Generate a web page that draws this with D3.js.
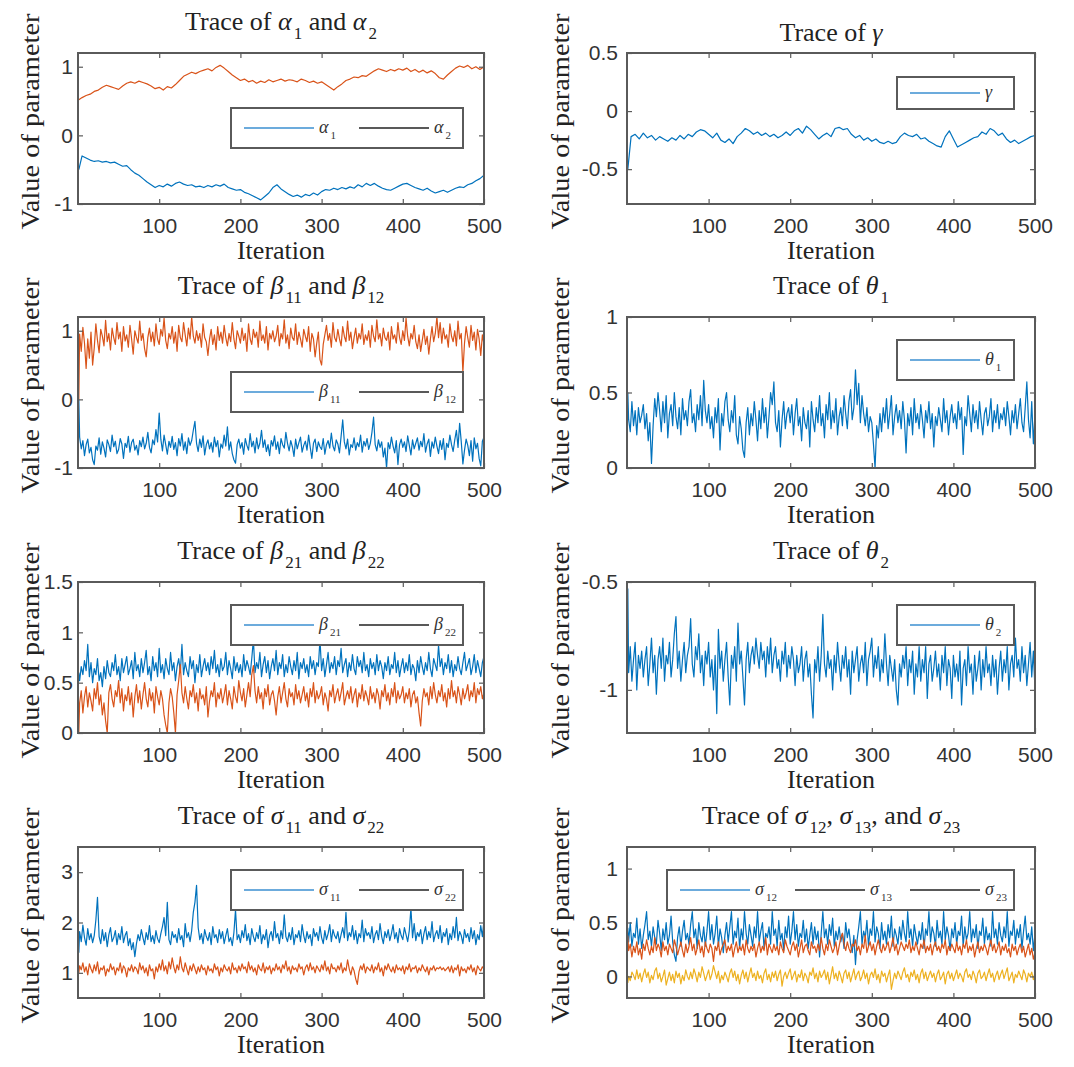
<!DOCTYPE html>
<html>
<head>
<meta charset="utf-8">
<script src="https://cdn.jsdelivr.net/npm/d3@7"></script>
<style>
  body { margin: 0; background: #fff; }
  svg { display: block; }
</style>
</head>
<body>
<div id="chart"></div>
<script>
// MCMC trace plots, 8 panels.
// slow chains (alpha, gamma) read every 5 iterations, noisy chains every 2

const X_TICKS = [100, 200, 300, 400, 500];
// iteration of each stored value (first draw is iteration 1)
const ITER5 = d3.range(0, 501, 5).map(d => Math.max(d, 1));
const ITER2 = d3.range(0, 501, 2).map(d => Math.max(d, 1));

const alpha1 = [
  -0.50, -0.30, -0.33, -0.36, -0.38, -0.37, -0.39, -0.38, -0.40, -0.39,
  -0.42, -0.45, -0.44, -0.50, -0.55, -0.58, -0.63, -0.68, -0.72, -0.76,
  -0.73, -0.75, -0.71, -0.74, -0.70, -0.68, -0.71, -0.73, -0.72, -0.75,
  -0.74, -0.76, -0.73, -0.75, -0.72, -0.74, -0.71, -0.76, -0.78, -0.80,
  -0.79, -0.83, -0.85, -0.88, -0.91, -0.94, -0.89, -0.84, -0.76, -0.72,
  -0.78, -0.82, -0.86, -0.89, -0.87, -0.90, -0.86, -0.88, -0.84, -0.87,
  -0.82, -0.79, -0.80, -0.77, -0.79, -0.76, -0.78, -0.75, -0.77, -0.72,
  -0.75, -0.70, -0.73, -0.70, -0.74, -0.77, -0.79, -0.80, -0.77, -0.74,
  -0.71, -0.70, -0.73, -0.76, -0.78, -0.80, -0.77, -0.81, -0.84, -0.82,
  -0.80, -0.83, -0.80, -0.77, -0.75, -0.76, -0.72, -0.70, -0.66, -0.63,
  -0.58
];
const alpha2 = [
  0.52, 0.55, 0.58, 0.60, 0.64, 0.66, 0.70, 0.73, 0.71, 0.69,
  0.67, 0.72, 0.76, 0.78, 0.76, 0.79, 0.77, 0.75, 0.72, 0.68,
  0.70, 0.66, 0.71, 0.69, 0.74, 0.80, 0.86, 0.89, 0.92, 0.90,
  0.93, 0.95, 0.97, 0.94, 0.99, 1.02, 0.98, 0.93, 0.88, 0.84,
  0.80, 0.82, 0.78, 0.80, 0.76, 0.79, 0.77, 0.81, 0.78, 0.80,
  0.82, 0.79, 0.81, 0.80, 0.78, 0.82, 0.80, 0.77, 0.79, 0.76,
  0.78, 0.74, 0.70, 0.66, 0.71, 0.75, 0.80, 0.82, 0.85, 0.84,
  0.87, 0.86, 0.90, 0.94, 0.97, 0.95, 0.93, 0.96, 0.94, 0.97,
  0.95, 0.98, 0.93, 0.96, 0.92, 0.95, 0.91, 0.94, 0.90, 0.84,
  0.82, 0.88, 0.93, 0.98, 1.01, 0.99, 1.02, 0.97, 1.00, 0.96,
  1.00
];
const gamma = [
  -0.50, -0.22, -0.20, -0.24, -0.19, -0.23, -0.21, -0.25, -0.22, -0.24,
  -0.26, -0.23, -0.25, -0.21, -0.24, -0.20, -0.22, -0.18, -0.16, -0.17,
  -0.20, -0.23, -0.19, -0.25, -0.27, -0.24, -0.28, -0.22, -0.19, -0.15,
  -0.17, -0.20, -0.18, -0.21, -0.19, -0.22, -0.20, -0.23, -0.21, -0.18,
  -0.21, -0.17, -0.15, -0.19, -0.13, -0.16, -0.20, -0.24, -0.21, -0.19,
  -0.22, -0.15, -0.14, -0.16, -0.15, -0.20, -0.23, -0.21, -0.25, -0.23,
  -0.26, -0.24, -0.27, -0.28, -0.26, -0.28, -0.27, -0.22, -0.19, -0.21,
  -0.22, -0.20, -0.24, -0.23, -0.26, -0.28, -0.30, -0.31, -0.22, -0.17,
  -0.24, -0.31, -0.29, -0.27, -0.25, -0.23, -0.22, -0.18, -0.20, -0.15,
  -0.17, -0.21, -0.19, -0.24, -0.27, -0.25, -0.28, -0.26, -0.24, -0.22,
  -0.21
];
const beta11 = [
  0.00, -0.55, -0.72, -0.60, -0.82, -0.66, -0.58, -0.78, -0.70, -0.88,
  -0.95, -0.68, -0.74, -0.56, -0.80, -0.62, -0.71, -0.84, -0.59, -0.66,
  -0.76, -0.52, -0.69, -0.61, -0.79, -0.73, -0.57, -0.65, -0.86, -0.64,
  -0.70, -0.54, -0.77, -0.63, -0.58, -0.74, -0.67, -0.81, -0.60, -0.69,
  -0.55, -0.72, -0.64, -0.48, -0.70, -0.78, -0.59, -0.66, -0.44, -0.62,
  -0.20, -0.58, -0.75, -0.52, -0.66, -0.80, -0.61, -0.70, -0.54, -0.73,
  -0.63, -0.82, -0.57, -0.68, -0.50, -0.74, -0.62, -0.79, -0.56, -0.67,
  -0.60, -0.45, -0.32, -0.64, -0.76, -0.58, -0.70, -0.53, -0.81, -0.66,
  -0.59, -0.72, -0.63, -0.77, -0.55, -0.69, -0.60, -0.84, -0.65, -0.71,
  -0.52, -0.68, -0.40, -0.74, -0.62, -0.79, -0.88, -0.93, -0.66, -0.58,
  -0.71, -0.63, -0.80, -0.57, -0.67, -0.74, -0.50, -0.69, -0.61, -0.78,
  -0.56, -0.72, -0.64, -0.45, -0.70, -0.59, -0.76, -0.66, -0.82, -0.60,
  -0.68, -0.53, -0.73, -0.62, -0.79, -0.57, -0.66, -0.71, -0.48, -0.64,
  -0.75, -0.60, -0.69, -0.83, -0.58, -0.72, -0.63, -0.55, -0.77, -0.67,
  -0.61, -0.74, -0.52, -0.70, -0.86, -0.64, -0.58, -0.76, -0.62, -0.69,
  -0.73, -0.57, -0.80, -0.66, -0.60, -0.71, -0.49, -0.68, -0.75, -0.59,
  -0.65, -0.78, -0.54, -0.30, -0.62, -0.72, -0.58, -0.81, -0.66, -0.70,
  -0.56, -0.74, -0.63, -0.69, -0.52, -0.77, -0.61, -0.68, -0.57, -0.73,
  -0.64, -0.48, -0.26, -0.66, -0.75, -0.59, -0.70, -0.62, -0.84, -0.71,
  -1.00, -0.63, -0.72, -0.55, -0.68, -0.78, -0.60, -0.95, -0.66, -0.58,
  -0.70, -0.62, -0.76, -0.53, -0.67, -0.81, -0.59, -0.72, -0.64, -0.56,
  -0.74, -0.61, -0.69, -0.50, -0.77, -0.65, -0.58, -0.83, -0.62, -0.71,
  -0.55, -0.68, -0.79, -0.60, -0.73, -0.57, -0.88, -0.64, -0.70, -0.52,
  -0.66, -0.76, -0.59, -0.45, -0.70, -0.35, -0.62, -0.94, -0.74, -0.58,
  -0.67, -0.82, -0.60, -0.90, -0.56, -0.72, -0.64, -0.86, -0.97, -0.61,
  -0.55
];
const beta12 = [
  0.00, 0.95, 0.70, 1.05, 0.82, 0.45, 0.88, 0.60, 0.98, 0.50,
  0.75, 1.10, 0.86, 0.68, 1.02, 0.92, 0.78, 1.15, 0.84, 0.96,
  0.72, 1.04, 0.90, 0.80, 1.12, 0.88, 0.98, 0.70, 1.06, 0.85,
  0.94, 0.76, 1.08, 0.88, 0.66, 1.00, 0.90, 0.82, 1.14, 0.86,
  0.96, 0.74, 0.62, 0.90, 1.04, 0.84, 0.98, 0.78, 1.10, 0.88,
  0.80, 1.02, 0.92, 1.18, 0.86, 0.74, 0.96, 0.88, 1.06, 0.82,
  0.98, 0.70, 1.08, 0.90, 0.84, 1.12, 0.94, 0.78, 1.04, 0.88,
  1.20, 0.92, 0.82, 1.00, 0.86, 0.96, 0.76, 1.10, 0.90, 0.84,
  0.64, 0.88, 1.02, 0.80, 0.94, 0.72, 1.06, 0.86, 0.98, 0.82,
  1.08, 0.90, 0.78, 0.96, 0.84, 1.12, 0.88, 0.74, 1.00, 0.92,
  0.82, 1.04, 0.86, 0.96, 0.70, 1.10, 0.88, 0.80, 1.02, 0.90,
  0.98, 0.76, 1.14, 0.86, 0.94, 0.82, 1.06, 0.72, 0.96, 0.88,
  1.00, 0.84, 0.92, 1.08, 0.78, 0.96, 0.88, 1.16, 0.82, 0.94,
  0.74, 1.04, 0.90, 0.86, 1.10, 0.80, 0.98, 0.88, 0.76, 1.02,
  0.92, 0.84, 1.06, 0.70, 0.96, 0.88, 0.62, 0.82, 0.98, 0.58,
  0.50, 0.80, 0.94, 1.08, 0.86, 0.96, 0.76, 1.12, 0.90, 0.84,
  1.02, 0.88, 0.78, 1.06, 0.92, 0.84, 1.14, 0.86, 0.98, 0.74,
  0.90, 1.04, 0.82, 0.96, 0.88, 1.10, 0.80, 0.94, 0.86, 1.00,
  0.76, 1.08, 0.92, 0.84, 1.16, 0.88, 0.96, 0.78, 1.04, 0.90,
  0.86, 0.98, 0.72, 1.06, 0.88, 0.94, 0.82, 1.12, 0.90, 0.80,
  1.00, 0.86, 1.18, 0.92, 0.78, 0.96, 0.88, 1.08, 0.84, 0.74,
  0.94, 0.70, 0.86, 1.02, 0.80, 0.92, 0.66, 0.88, 1.06, 0.84,
  0.96, 1.20, 0.90, 1.12, 0.82, 1.04, 0.88, 0.94, 0.76, 1.10,
  0.92, 0.84, 1.00, 0.78, 1.14, 0.88, 0.96, 0.40, 0.82, 1.06,
  0.90, 0.76, 1.08, 0.86, 0.98, 0.72, 1.02, 0.88, 0.64, 0.94,
  0.80
];
const theta1 = [
  0.50, 0.32, 0.24, 0.44, 0.28, 0.38, 0.22, 0.40, 0.30, 0.35,
  0.42, 0.26, 0.36, 0.18, 0.30, 0.03, 0.28, 0.46, 0.34, 0.50,
  0.38, 0.24, 0.44, 0.30, 0.48, 0.20, 0.36, 0.42, 0.28, 0.50,
  0.34, 0.26, 0.40, 0.22, 0.46, 0.32, 0.38, 0.28, 0.44, 0.52,
  0.30, 0.36, 0.24, 0.42, 0.32, 0.48, 0.28, 0.58, 0.38, 0.30,
  0.42, 0.26, 0.34, 0.20, 0.40, 0.30, 0.46, 0.12, 0.36, 0.28,
  0.44, 0.50, 0.32, 0.24, 0.38, 0.30, 0.48, 0.22, 0.16, 0.34,
  0.26, 0.12, 0.07, 0.30, 0.40, 0.22, 0.36, 0.28, 0.44, 0.32,
  0.18, 0.38, 0.26, 0.46, 0.30, 0.40, 0.20, 0.34, 0.50, 0.42,
  0.57, 0.30, 0.24, 0.38, 0.14, 0.32, 0.44, 0.26, 0.36, 0.40,
  0.30, 0.42, 0.22, 0.36, 0.46, 0.28, 0.34, 0.18, 0.40, 0.30,
  0.26, 0.38, 0.14, 0.44, 0.32, 0.24, 0.40, 0.30, 0.48, 0.28,
  0.36, 0.20, 0.42, 0.32, 0.50, 0.26, 0.38, 0.30, 0.46, 0.22,
  0.34, 0.40, 0.28, 0.48, 0.36, 0.26, 0.44, 0.52, 0.32, 0.40,
  0.65, 0.42, 0.56, 0.30, 0.48, 0.36, 0.28, 0.40, 0.24, 0.34,
  0.30, 0.16, 0.00, 0.28, 0.20, 0.36, 0.24, 0.40, 0.30, 0.46,
  0.26, 0.36, 0.48, 0.22, 0.34, 0.42, 0.30, 0.38, 0.26, 0.44,
  0.32, 0.10, 0.36, 0.28, 0.40, 0.22, 0.46, 0.30, 0.36, 0.26,
  0.42, 0.32, 0.20, 0.38, 0.30, 0.44, 0.26, 0.36, 0.14, 0.34,
  0.28, 0.40, 0.32, 0.24, 0.46, 0.30, 0.38, 0.22, 0.34, 0.42,
  0.30, 0.36, 0.26, 0.44, 0.32, 0.40, 0.09, 0.34, 0.28, 0.48,
  0.36, 0.24, 0.42, 0.30, 0.38, 0.26, 0.44, 0.32, 0.22, 0.36,
  0.40, 0.28, 0.34, 0.46, 0.24, 0.38, 0.30, 0.42, 0.26, 0.36,
  0.32, 0.40, 0.28, 0.44, 0.34, 0.22, 0.38, 0.30, 0.42, 0.26,
  0.36, 0.46, 0.30, 0.24, 0.40, 0.57, 0.32, 0.20, 0.44, 0.16,
  0.36
];
const beta21 = [
  0.60, 0.52, 0.66, 0.58, 0.72, 0.62, 0.88, 0.56, 0.70, 0.50,
  0.64, 0.58, 0.74, 0.52, 0.60, 0.46, 0.66, 0.54, 0.72, 0.60,
  0.56, 0.70, 0.62, 0.78, 0.58, 0.66, 0.52, 0.74, 0.60, 0.68,
  0.76, 0.58, 0.64, 0.72, 0.54, 0.80, 0.62, 0.68, 0.56, 0.74,
  0.60, 0.70, 0.82, 0.58, 0.66, 0.52, 0.76, 0.62, 0.70, 0.56,
  0.84, 0.60, 0.68, 0.54, 0.74, 0.64, 0.58, 0.80, 0.62, 0.70,
  0.52, 0.66, 0.74, 0.60, 0.88, 0.58, 0.70, 0.62, 0.56, 0.76,
  0.64, 0.72, 0.50, 0.68, 0.60, 0.78, 0.56, 0.66, 0.74, 0.62,
  0.70, 0.58, 0.76, 0.64, 0.82, 0.60, 0.68, 0.56, 0.74, 0.62,
  0.66, 0.80, 0.58, 0.72, 0.64, 0.54, 0.76, 0.62, 0.70, 0.60,
  0.68, 0.56, 0.78, 0.62, 0.72, 0.66, 0.58, 0.74, 0.93, 0.60,
  0.70, 0.64, 0.80, 0.56, 0.68, 0.76, 0.60, 0.72, 0.54, 0.66,
  0.74, 0.62, 0.82, 0.58, 0.70, 0.64, 0.78, 0.56, 0.68, 0.60,
  0.76, 0.66, 0.58, 0.72, 0.62, 0.80, 0.54, 0.70, 0.64, 0.74,
  0.60, 0.68, 0.56, 0.76, 0.64, 0.72, 0.58, 0.70, 0.66, 0.93,
  0.62, 0.74, 0.56, 0.68, 0.80, 0.60, 0.70, 0.64, 0.76, 0.58,
  0.72, 0.66, 0.84, 0.60, 0.68, 0.74, 0.56, 0.70, 0.62, 0.78,
  0.64, 0.58, 0.76, 0.66, 0.72, 0.60, 0.80, 0.62, 0.68, 0.56,
  0.74, 0.64, 0.70, 0.58, 0.78, 0.62, 0.72, 0.66, 0.54, 0.70,
  0.62, 0.76, 0.58, 0.68, 0.64, 0.80, 0.60, 0.72, 0.56, 0.66,
  0.74, 0.60, 0.70, 0.62, 0.78, 0.58, 0.68, 0.64, 0.52, 0.72,
  0.60, 0.76, 0.66, 0.58, 0.70, 0.62, 0.80, 0.64, 0.56, 0.74,
  0.68, 0.62, 0.87, 0.66, 0.74, 0.58, 0.70, 0.64, 0.78, 0.60,
  0.72, 0.56, 0.68, 0.62, 0.76, 0.64, 0.58, 0.70, 0.80, 0.62,
  0.68, 0.74, 0.58, 0.66, 0.78, 0.60, 0.72, 0.64, 0.56, 0.70,
  0.76
];
const beta22 = [
  0.00, 0.30, 0.42, 0.20, 0.36, 0.46, 0.26, 0.40, 0.32, 0.22,
  0.44, 0.34, 0.50, 0.28, 0.38, 0.18, 0.30, 0.12, 0.00, 0.40,
  0.48, 0.34, 0.26, 0.42, 0.36, 0.52, 0.30, 0.44, 0.22, 0.38,
  0.32, 0.46, 0.28, 0.40, 0.16, 0.36, 0.48, 0.30, 0.42, 0.24,
  0.38, 0.50, 0.34, 0.26, 0.44, 0.32, 0.40, 0.20, 0.46, 0.36,
  0.28, 0.42, 0.34, 0.18, 0.08, 0.00, 0.30, 0.44, 0.36, 0.20,
  0.00, 0.38, 0.52, 0.68, 0.40, 0.30, 0.46, 0.34, 0.24, 0.42,
  0.36, 0.48, 0.30, 0.40, 0.22, 0.44, 0.34, 0.38, 0.28, 0.46,
  0.16, 0.32, 0.42, 0.36, 0.50, 0.26, 0.40, 0.34, 0.44, 0.30,
  0.38, 0.48, 0.28, 0.42, 0.34, 0.24, 0.46, 0.36, 0.30, 0.52,
  0.40, 0.32, 0.44, 0.26, 0.38, 0.50, 0.36, 0.58, 0.67, 0.42,
  0.30, 0.46, 0.34, 0.40, 0.24, 0.44, 0.36, 0.48, 0.28, 0.38,
  0.42, 0.32, 0.18, 0.36, 0.46, 0.30, 0.40, 0.50, 0.34, 0.26,
  0.44, 0.36, 0.40, 0.28, 0.48, 0.34, 0.42, 0.30, 0.38, 0.46,
  0.32, 0.40, 0.26, 0.44, 0.36, 0.50, 0.30, 0.42, 0.34, 0.38,
  0.46, 0.28, 0.40, 0.34, 0.22, 0.42, 0.36, 0.48, 0.30, 0.38,
  0.44, 0.32, 0.40, 0.50, 0.28, 0.36, 0.42, 0.34, 0.46, 0.30,
  0.38, 0.44, 0.26, 0.40, 0.34, 0.48, 0.32, 0.42, 0.36, 0.28,
  0.46, 0.34, 0.40, 0.30, 0.44, 0.38, 0.24, 0.42, 0.36, 0.48,
  0.32, 0.40, 0.28, 0.44, 0.36, 0.50, 0.30, 0.42, 0.34, 0.38,
  0.46, 0.30, 0.40, 0.34, 0.44, 0.26, 0.38, 0.42, 0.30, 0.36,
  0.20, 0.07, 0.32, 0.44, 0.36, 0.40, 0.28, 0.46, 0.34, 0.50,
  0.38, 0.30, 0.42, 0.36, 0.48, 0.32, 0.40, 0.26, 0.44, 0.34,
  0.52, 0.36, 0.42, 0.30, 0.46, 0.38, 0.28, 0.44, 0.34, 0.40,
  0.48, 0.32, 0.42, 0.36, 0.50, 0.30, 0.44, 0.38, 0.46, 0.34,
  0.40
];
const theta2 = [
  -0.53, -0.92, -0.80, -0.96, -0.86, -0.78, -1.00, -0.84, -0.90, -0.82,
  -0.94, -0.86, -0.80, -0.98, -0.88, -0.76, -0.92, -0.84, -1.02, -0.86,
  -0.80, -0.90, -0.76, -0.96, -0.84, -0.88, -0.78, -0.94, -0.86, -0.74,
  -0.66, -0.90, -0.82, -0.96, -0.86, -0.78, -0.92, -0.84, -0.80, -0.67,
  -0.88, -0.94, -0.80, -0.86, -0.74, -0.92, -0.84, -0.98, -0.82, -0.88,
  -0.78, -0.94, -0.86, -1.00, -0.84, -1.11, -0.72, -0.90, -0.82, -0.96,
  -0.86, -0.78, -0.94, -1.07, -0.84, -0.90, -0.80, -0.96, -0.69, -0.88,
  -0.82, -0.94, -1.07, -0.86, -0.78, -0.92, -0.84, -0.80, -0.88, -0.76,
  -0.84, -0.90, -0.78, -0.86, -0.82, -0.94, -0.80, -0.88, -0.76, -0.92,
  -0.84, -0.80, -0.90, -0.86, -0.96, -0.82, -0.88, -0.78, -0.94, -0.84,
  -0.90, -0.80, -0.86, -0.98, -0.84, -0.92, -0.88, -0.80, -0.96, -0.86,
  -0.82, -0.94, -0.88, -1.02, -1.13, -0.86, -0.92, -0.80, -0.96, -0.84,
  -0.65, -0.88, -0.94, -0.82, -0.90, -0.86, -1.00, -0.84, -0.92, -0.78,
  -0.88, -0.96, -0.84, -0.90, -0.80, -0.94, -0.86, -1.02, -0.82, -0.92,
  -0.86, -0.80, -0.96, -0.88, -0.84, -0.92, -0.78, -0.98, -0.86, -0.82,
  -0.76, -0.94, -0.84, -0.90, -0.80, -0.96, -0.86, -0.92, -0.74, -0.88,
  -0.98, -0.84, -0.90, -0.96, -0.86, -1.00, -1.07, -0.88, -0.94, -0.84,
  -0.90, -0.80, -0.98, -0.86, -0.92, -0.82, -1.02, -0.88, -0.94, -0.80,
  -0.96, -0.86, -0.92, -0.80, -1.04, -0.88, -0.84, -0.96, -0.90, -0.82,
  -0.94, -0.88, -1.00, -0.84, -0.92, -0.80, -0.98, -0.86, -0.90, -1.04,
  -0.84, -0.94, -0.88, -0.96, -0.82, -1.07, -0.90, -0.86, -0.98, -0.80,
  -0.92, -0.88, -1.02, -0.84, -0.96, -0.90, -0.82, -1.00, -0.86, -0.94,
  -0.80, -0.92, -0.88, -0.98, -0.84, -0.94, -0.86, -1.02, -0.90, -0.82,
  -0.96, -0.86, -0.92, -0.80, -1.00, -0.88, -0.84, -0.94, -0.76, -0.90,
  -0.86, -0.96, -0.80, -0.92, -0.84, -0.98, -0.88, -0.78, -0.94, -0.82,
  -1.00
];
const sigma11 = [
  1.40, 1.82, 1.62, 1.95, 1.70, 1.55, 1.88, 1.66, 1.78, 1.60,
  1.74, 2.05, 2.50, 1.72, 1.58, 1.86, 1.64, 1.80, 1.52, 1.76,
  1.90, 1.62, 1.70, 1.84, 1.56, 1.78, 1.66, 1.92, 1.60, 1.74,
  1.82, 1.54, 1.68, 1.46, 1.60, 1.32, 1.58, 1.76, 1.64, 1.86,
  1.70, 1.56, 1.80, 1.66, 1.94, 1.62, 1.74, 1.58, 1.84, 1.68,
  1.60, 1.78, 1.92, 2.10, 1.74, 2.40, 1.66, 1.56, 1.82, 1.70,
  1.76, 1.60, 1.88, 1.66, 1.74, 1.52, 1.98, 1.70, 1.80, 1.62,
  1.84, 2.20, 2.40, 2.74, 1.90, 1.66, 1.78, 1.58, 1.86, 1.72,
  1.64, 1.80, 1.56, 1.92, 1.70, 1.76, 1.60, 1.86, 1.68, 1.82,
  1.58, 1.74, 1.88, 1.62, 1.70, 1.54, 1.80, 2.25, 1.66, 1.76,
  1.60, 1.84, 1.70, 1.96, 1.64, 1.78, 1.56, 1.88, 1.72, 1.62,
  1.80, 1.68, 1.94, 1.58, 1.76, 1.66, 1.86, 1.50, 1.74, 1.82,
  1.64, 2.02, 1.70, 1.78, 1.58, 1.84, 1.68, 2.15, 1.72, 1.62,
  1.80, 1.66, 1.90, 1.56, 1.76, 1.70, 1.84, 1.62, 1.96, 1.74,
  1.60, 1.82, 1.68, 1.76, 1.54, 1.88, 1.72, 1.80, 1.64, 1.92,
  1.70, 1.58, 1.84, 1.66, 1.78, 1.96, 1.62, 1.86, 1.74, 1.68,
  1.82, 1.60, 1.76, 1.90, 1.70, 2.20, 1.64, 1.80, 1.72, 1.94,
  1.66, 1.84, 1.58, 1.78, 1.70, 2.05, 1.62, 1.88, 1.74, 1.80,
  1.68, 1.92, 1.60, 1.76, 1.84, 1.66, 1.98, 1.72, 1.58, 1.82,
  1.70, 1.86, 1.64, 1.78, 1.96, 1.68, 1.80, 1.60, 1.88, 1.74,
  1.66, 1.90, 1.76, 1.62, 1.84, 2.28, 1.70, 1.98, 1.64, 1.80,
  1.72, 1.86, 1.58, 1.78, 1.92, 1.66, 1.82, 1.70, 2.02, 1.62,
  1.76, 1.84, 1.68, 1.94, 1.60, 1.80, 1.72, 1.88, 1.56, 1.78,
  1.66, 1.92, 1.70, 2.10, 1.64, 1.82, 1.74, 1.58, 1.86, 1.70,
  1.78, 1.62, 1.90, 1.68, 1.84, 1.56, 1.76, 1.66, 1.94, 1.72,
  2.05
];
const sigma22 = [
  1.00, 1.14, 1.06, 1.20, 1.02, 1.12, 0.96, 1.18, 1.08, 1.00,
  1.16, 1.04, 1.22, 0.98, 1.10, 1.06, 1.14, 0.94, 1.08, 1.02,
  1.18, 1.06, 1.12, 0.96, 1.10, 1.04, 1.20, 1.00, 1.14, 1.08,
  0.92, 1.10, 1.04, 1.16, 1.02, 1.12, 1.08, 0.98, 1.20, 1.06,
  1.14, 1.00, 1.10, 0.94, 1.16, 1.04, 1.08, 0.88, 1.12, 1.02,
  1.18, 1.06, 1.26, 1.04, 1.14, 0.98, 1.22, 1.08, 1.30, 1.12,
  1.00, 1.16, 1.06, 1.32, 1.10, 1.02, 1.20, 1.08, 0.96, 1.14,
  1.04, 1.18, 1.08, 0.98, 1.12, 1.02, 1.16, 1.06, 1.10, 0.96,
  1.14, 1.04, 1.08, 1.00, 1.18, 1.06, 1.12, 0.94, 1.10, 1.02,
  1.16, 1.08, 1.04, 1.12, 0.98, 1.20, 1.06, 1.10, 1.00, 1.14,
  1.04, 1.18, 1.08, 1.12, 1.00, 1.22, 1.06, 1.14, 1.02, 1.10,
  0.96, 1.16, 1.08, 1.04, 1.20, 1.00, 1.12, 1.06, 1.14, 0.98,
  1.10, 1.04, 1.18, 1.06, 1.12, 1.00, 1.16, 1.08, 1.24, 1.04,
  1.12, 0.98, 1.14, 1.06, 1.10, 1.02, 1.18, 1.08, 1.12, 0.96,
  1.10, 1.16, 1.04, 1.20, 1.06, 1.12, 1.00, 1.14, 1.08, 1.02,
  1.16, 1.06, 1.24, 1.04, 1.12, 0.98, 1.18, 1.08, 1.10, 1.02,
  1.14, 1.06, 1.20, 1.00, 1.10, 1.04, 1.26, 1.08, 0.96, 1.12,
  1.04, 0.88, 0.77, 1.02, 1.14, 1.06, 1.18, 1.00, 1.12, 1.08,
  1.04, 1.16, 1.00, 1.12, 1.06, 1.20, 1.02, 1.10, 0.94, 1.14,
  1.06, 1.18, 1.08, 1.02, 1.12, 1.00, 1.16, 1.06, 1.10, 1.04,
  1.14, 0.98, 1.12, 1.06, 1.18, 1.02, 1.10, 1.08, 1.14, 1.00,
  1.10, 1.04, 1.16, 1.08, 1.02, 1.12, 0.96, 1.10, 1.06, 1.14,
  1.04, 1.10, 1.08, 1.12, 1.06, 1.10, 1.04, 1.08, 1.12, 1.02,
  1.14, 1.00, 1.10, 1.06, 1.16, 0.94, 1.12, 1.04, 1.08, 1.00,
  1.12, 1.06, 1.16, 1.02, 1.10, 0.96, 1.14, 1.08, 1.04, 1.12,
  1.08
];
const sigma12 = [
  0.45, 0.32, 0.50, 0.28, 0.40, 0.36, 0.54, 0.30, 0.44, 0.26,
  0.38, 0.48, 0.60, 0.34, 0.42, 0.28, 0.46, 0.36, 0.30, 0.52,
  0.40, 0.24, 0.44, 0.34, 0.50, 0.30, 0.38, 0.56, 0.32, 0.20,
  0.14, 0.36, 0.46, 0.28, 0.42, 0.52, 0.34, 0.40, 0.30, 0.48,
  0.60, 0.36, 0.44, 0.26, 0.50, 0.38, 0.32, 0.46, 0.28, 0.42,
  0.60, 0.34, 0.48, 0.30, 0.40, 0.56, 0.28, 0.44, 0.36, 0.22,
  0.38, 0.50, 0.32, 0.46, 0.60, 0.30, 0.42, 0.36, 0.54, 0.26,
  0.44, 0.34, 0.60, 0.40, 0.30, 0.48, 0.38, 0.28, 0.46, 0.36,
  0.60, 0.32, 0.42, 0.50, 0.26, 0.40, 0.36, 0.46, 0.30, 0.60,
  0.38, 0.44, 0.28, 0.52, 0.34, 0.40, 0.24, 0.46, 0.36, 0.56,
  0.30, 0.42, 0.60, 0.34, 0.48, 0.28, 0.40, 0.36, 0.52, 0.32,
  0.44, 0.26, 0.38, 0.50, 0.30, 0.46, 0.34, 0.42, 0.18, 0.40,
  0.60, 0.36, 0.44, 0.30, 0.48, 0.38, 0.54, 0.28, 0.42, 0.34,
  0.46, 0.32, 0.40, 0.26, 0.50, 0.36, 0.44, 0.30, 0.22, 0.38,
  0.11, 0.34, 0.46, 0.60, 0.30, 0.42, 0.36, 0.52, 0.28, 0.44,
  0.38, 0.60, 0.32, 0.46, 0.40, 0.26, 0.50, 0.34, 0.42, 0.30,
  0.48, 0.36, 0.56, 0.28, 0.44, 0.38, 0.30, 0.46, 0.34, 0.52,
  0.40, 0.32, 0.60, 0.36, 0.44, 0.28, 0.48, 0.38, 0.30, 0.42,
  0.34, 0.50, 0.26, 0.44, 0.38, 0.60, 0.32, 0.46, 0.40, 0.28,
  0.52, 0.36, 0.42, 0.30, 0.60, 0.34, 0.46, 0.38, 0.24, 0.44,
  0.36, 0.50, 0.30, 0.42, 0.38, 0.56, 0.28, 0.46, 0.34, 0.40,
  0.60, 0.32, 0.44, 0.36, 0.48, 0.26, 0.42, 0.38, 0.54, 0.30,
  0.46, 0.34, 0.40, 0.28, 0.60, 0.36, 0.44, 0.30, 0.50, 0.38,
  0.32, 0.46, 0.36, 0.60, 0.28, 0.42, 0.38, 0.52, 0.30, 0.44,
  0.36, 0.48, 0.26, 0.42, 0.56, 0.34, 0.40, 0.30, 0.46, 0.24,
  0.40
];
const sigma13 = [
  0.38, 0.24, 0.30, 0.18, 0.28, 0.22, 0.32, 0.20, 0.26, 0.16,
  0.30, 0.24, 0.34, 0.26, 0.20, 0.28, 0.22, 0.36, 0.24, 0.30,
  0.26, 0.18, 0.32, 0.24, 0.28, 0.20, 0.30, 0.26, 0.22, 0.34,
  0.28, 0.20, 0.26, 0.32, 0.24, 0.18, 0.30, 0.22, 0.28, 0.36,
  0.24, 0.30, 0.20, 0.26, 0.34, 0.22, 0.28, 0.18, 0.32, 0.26,
  0.22, 0.30, 0.26, 0.14, 0.28, 0.24, 0.32, 0.20, 0.26, 0.30,
  0.34, 0.22, 0.28, 0.24, 0.30, 0.18, 0.26, 0.32, 0.22, 0.28,
  0.24, 0.30, 0.20, 0.34, 0.26, 0.22, 0.28, 0.24, 0.30, 0.18,
  0.26, 0.32, 0.22, 0.28, 0.24, 0.36, 0.20, 0.30, 0.26, 0.22,
  0.30, 0.24, 0.28, 0.20, 0.32, 0.26, 0.22, 0.34, 0.28, 0.24,
  0.20, 0.28, 0.32, 0.24, 0.30, 0.18, 0.26, 0.34, 0.22, 0.28,
  0.30, 0.24, 0.20, 0.32, 0.26, 0.28, 0.22, 0.30, 0.24, 0.36,
  0.26, 0.20, 0.30, 0.24, 0.34, 0.28, 0.22, 0.26, 0.32, 0.20,
  0.28, 0.36, 0.40, 0.30, 0.24, 0.32, 0.26, 0.22, 0.30, 0.28,
  0.34, 0.24, 0.28, 0.20, 0.30, 0.26, 0.38, 0.22, 0.28, 0.32,
  0.24, 0.30, 0.20, 0.28, 0.34, 0.26, 0.22, 0.30, 0.24, 0.28,
  0.32, 0.22, 0.28, 0.36, 0.24, 0.30, 0.20, 0.26, 0.32, 0.28,
  0.24, 0.30, 0.26, 0.34, 0.22, 0.28, 0.24, 0.32, 0.26, 0.20,
  0.30, 0.26, 0.34, 0.22, 0.28, 0.24, 0.30, 0.20, 0.28, 0.32,
  0.24, 0.28, 0.22, 0.30, 0.26, 0.34, 0.20, 0.28, 0.24, 0.30,
  0.26, 0.22, 0.32, 0.24, 0.28, 0.20, 0.30, 0.26, 0.34, 0.22,
  0.28, 0.24, 0.30, 0.18, 0.26, 0.32, 0.22, 0.28, 0.24, 0.30,
  0.26, 0.20, 0.28, 0.34, 0.24, 0.30, 0.22, 0.26, 0.32, 0.20,
  0.28, 0.24, 0.30, 0.22, 0.26, 0.18, 0.30, 0.24, 0.28, 0.20,
  0.26, 0.30, 0.22, 0.28, 0.18, 0.24, 0.30, 0.20, 0.26, 0.16,
  0.22
];
const sigma23 = [
  -0.06, 0.00, -0.04, 0.04, 0.01, -0.03, 0.06, -0.02, 0.03, -0.05,
  0.02, 0.07, -0.01, 0.04, -0.06, 0.01, -0.03, 0.05, 0.08, -0.02,
  0.03, -0.05, 0.00, 0.06, -0.08, -0.02, 0.04, -0.04, 0.02, -0.06,
  0.05, -0.01, 0.03, -0.07, 0.01, -0.04, 0.06, 0.00, -0.03, 0.04,
  -0.02, 0.07, 0.02, -0.05, 0.04, -0.01, 0.09, 0.03, -0.04, 0.01,
  0.06, -0.03, 0.02, 0.10, 0.04, -0.02, 0.05, -0.06, 0.01, -0.03,
  0.04, 0.00, -0.05, 0.03, 0.07, -0.01, 0.05, -0.04, 0.02, -0.07,
  0.01, 0.06, -0.02, 0.04, -0.05, 0.02, 0.08, -0.01, 0.03, -0.04,
  0.05, -0.02, 0.01, -0.06, 0.03, 0.07, -0.03, 0.02, -0.05, 0.04,
  -0.01, 0.05, -0.04, 0.02, 0.06, -0.09, 0.00, 0.04, -0.02, 0.03,
  0.07, -0.03, 0.01, 0.05, -0.05, 0.02, -0.01, 0.06, -0.04, 0.03,
  0.00, -0.06, 0.04, 0.01, 0.08, -0.02, 0.03, -0.05, 0.05, -0.01,
  0.02, 0.06, -0.03, 0.04, -0.07, 0.01, 0.09, -0.02, 0.03, -0.04,
  0.05, 0.00, -0.06, 0.03, 0.06, -0.02, 0.04, -0.05, 0.01, 0.07,
  -0.03, 0.02, 0.05, -0.04, 0.00, 0.06, -0.02, 0.03, -0.07, 0.01,
  0.04, -0.01, 0.07, -0.03, 0.02, -0.06, 0.05, 0.00, 0.03, -0.05,
  0.01, 0.06, -0.12, -0.04, 0.03, -0.02, 0.05, 0.01, -0.03, 0.04,
  0.08, -0.01, 0.02, -0.05, 0.04, 0.00, 0.06, -0.03, 0.02, -0.06,
  0.03, 0.07, -0.02, 0.04, -0.04, 0.01, 0.05, -0.01, 0.03, -0.05,
  0.02, 0.06, -0.03, 0.00, 0.04, -0.07, 0.02, 0.05, -0.02, 0.03,
  -0.04, 0.01, 0.06, -0.02, 0.03, 0.00, -0.05, 0.04, 0.07, -0.01,
  0.02, -0.03, 0.05, 0.01, -0.06, 0.03, 0.06, -0.02, 0.00, 0.04,
  -0.04, 0.02, 0.07, -0.01, 0.03, -0.05, 0.01, 0.05, -0.03, 0.02,
  0.06, -0.02, 0.03, 0.08, -0.04, 0.00, 0.04, -0.06, 0.02, -0.01,
  0.05, 0.01, -0.03, 0.06, 0.02, -0.05, 0.03, 0.00, 0.04, -0.03,
  0.04
];

// MATLAB default line colours
const blue = "#0072BD", orange = "#D95319", yellow = "#EDB120";

// title pieces: [text, kind] kind 0 = plain, 1 = greek, 2 = subscript
const panels = [
  { col: 0, row: 0, title: [["Trace of ", 0], ["α", 1], ["1", 2], [" and ", 0], ["α", 1], ["2", 2]],
    y: [-1, 1.2], yTicks: [-1, 0, 1], series: [alpha1, alpha2], colors: [blue, orange],
    legend: [["α", "1"], ["α", "2"]], legTop: 55 },
  { col: 1, row: 0, title: [["Trace of ", 0], ["γ", 1]],
    y: [-0.8, 0.5], yTicks: [-0.5, 0, 0.5], series: [gamma], colors: [blue],
    legend: [["γ", ""]], legTop: 24 },
  { col: 0, row: 1, title: [["Trace of ", 0], ["β", 1], ["11", 2], [" and ", 0], ["β", 1], ["12", 2]],
    y: [-1, 1.2], yTicks: [-1, 0, 1], series: [beta11, beta12], colors: [blue, orange],
    legend: [["β", "11"], ["β", "12"]], legTop: 55 },
  { col: 1, row: 1, title: [["Trace of ", 0], ["θ", 1], ["1", 2]],
    y: [0, 1], yTicks: [0, 0.5, 1], series: [theta1], colors: [blue],
    legend: [["θ", "1"]], legTop: 23 },
  { col: 0, row: 2, title: [["Trace of ", 0], ["β", 1], ["21", 2], [" and ", 0], ["β", 1], ["22", 2]],
    y: [0, 1.5], yTicks: [0, 0.5, 1, 1.5], series: [beta21, beta22], colors: [blue, orange],
    legend: [["β", "21"], ["β", "22"]], legTop: 23 },
  { col: 1, row: 2, title: [["Trace of ", 0], ["θ", 1], ["2", 2]],
    y: [-1.2, -0.5], yTicks: [-1, -0.5], series: [theta2], colors: [blue],
    legend: [["θ", "2"]], legTop: 23 },
  { col: 0, row: 3, title: [["Trace of ", 0], ["σ", 1], ["11", 2], [" and ", 0], ["σ", 1], ["22", 2]],
    y: [0.5, 3.5], yTicks: [1, 2, 3], series: [sigma11, sigma22], colors: [blue, orange],
    legend: [["σ", "11"], ["σ", "22"]], legTop: 23 },
  { col: 1, row: 3, title: [["Trace of ", 0], ["σ", 1], ["12", 2], [", ", 0], ["σ", 1], ["13", 2], [", and ", 0], ["σ", 1], ["23", 2]],
    y: [-0.2, 1.2], yTicks: [0, 0.5, 1], series: [sigma12, sigma13, sigma23], colors: [blue, orange, yellow],
    legend: [["σ", "12"], ["σ", "13"], ["σ", "23"]], legTop: 23 }
];

const W = 1074, H = 1067;
const cols = [
  { x0: 78, x1: 484, ylab: 39, tickGap: 4 },
  { x0: 627, x1: 1035, ylab: 569, tickGap: 8 }
];
const rowTop = [53, 317, 582, 847];
const boxH = 151;
const axisColor = "#5a5a5a";
const serif = "'Liberation Serif', 'Times New Roman', serif";
const sans = "'Liberation Sans', Arial, sans-serif";

const svg = d3.select("#chart").append("svg")
  .attr("width", W).attr("height", H)
  .style("background", "#fff");

// writes greek + subscript runs into a text element
function richText(t, parts, size, subSize, shift) {
  let off = 0;
  parts.forEach(([s, k]) => {
    if (s === "") return;
    const ts = t.append("tspan").text(s);
    if (k === 2) {
      ts.attr("dy", shift - off).attr("dx", 2).attr("font-size", subSize);
      off = shift;
    } else {
      ts.attr("dy", -off).attr("font-size", size);
      if (k === 1) ts.attr("font-style", "italic");
      off = 0;
    }
  });
}

panels.forEach((p, pi) => {
  const c = cols[p.col];
  const top = rowTop[p.row], bot = top + boxH;

  const x = d3.scaleLinear().domain([0, 500]).range([c.x0, c.x1]);
  const y = d3.scaleLinear().domain(p.y).range([bot, top]);

  const g = svg.append("g");

  g.append("clipPath").attr("id", "clip" + pi)
    .append("rect").attr("x", c.x0).attr("y", top)
    .attr("width", c.x1 - c.x0).attr("height", boxH);

  // traces
  p.series.forEach((s, si) => {
    const it = s.length === ITER5.length ? ITER5 : ITER2;
    const line = d3.line()
      .x((d, i) => x(it[i]))
      .y(d => y(d));
    g.append("path")
      .datum(s)
      .attr("clip-path", "url(#clip" + pi + ")")
      .attr("fill", "none")
      .attr("stroke", p.colors[si])
      .attr("stroke-width", 1.2)
      .attr("stroke-linejoin", "round")
      .attr("d", line);
  });

  // axes: ticks inside on all four sides
  const fmt = d => String(d);
  const tk = 5;
  g.append("g").attr("transform", "translate(0," + bot + ")")
    .call(d3.axisBottom(x).tickValues(X_TICKS).tickSizeInner(-tk).tickSizeOuter(0).tickPadding(14).tickFormat(fmt));
  g.append("g").attr("transform", "translate(0," + top + ")")
    .call(d3.axisTop(x).tickValues(X_TICKS).tickSizeInner(-tk).tickSizeOuter(0).tickFormat(""));
  g.append("g").attr("transform", "translate(" + c.x0 + ",0)")
    .call(d3.axisLeft(y).tickValues(p.yTicks).tickSizeInner(-tk).tickSizeOuter(0).tickPadding(c.tickGap + 1).tickFormat(fmt));
  g.append("g").attr("transform", "translate(" + c.x1 + ",0)")
    .call(d3.axisRight(y).tickValues(p.yTicks).tickSizeInner(-tk).tickSizeOuter(0).tickFormat(""));

  g.selectAll(".domain").remove();
  g.selectAll(".tick line").attr("stroke", axisColor).attr("stroke-width", 1.2);
  g.selectAll(".tick text")
    .attr("font-family", sans).attr("font-size", 21).attr("fill", "#333");

  g.append("rect")
    .attr("x", c.x0).attr("y", top)
    .attr("width", c.x1 - c.x0).attr("height", boxH)
    .attr("fill", "none").attr("stroke", axisColor).attr("stroke-width", 2);

  // title
  const hasSub = p.title.some(d => d[1] === 2);
  const tt = g.append("text")
    .attr("x", (c.x0 + c.x1) / 2)
    .attr("y", hasSub ? top - 23 : top - 12)
    .attr("text-anchor", "middle")
    .attr("font-family", serif).attr("fill", "#222");
  richText(tt, p.title, 26, 17, 9);

  // axis labels
  g.append("text")
    .attr("x", (c.x0 + c.x1) / 2).attr("y", bot + 55)
    .attr("text-anchor", "middle")
    .attr("font-family", serif).attr("font-size", 26).attr("fill", "#222")
    .text("Iteration");
  g.append("text")
    .attr("transform", "translate(" + c.ylab + "," + (top + boxH / 2 - 7) + ") rotate(-90)")
    .attr("text-anchor", "middle")
    .attr("font-family", serif).attr("font-size", 26).attr("fill", "#222")
    .attr("textLength", 216).attr("lengthAdjust", "spacingAndGlyphs")
    .text("Value of parameter");

  // legend (MATLAB draws the 2nd/3rd keys black here)
  const n = p.legend.length;
  const lw = 115 * n + 2;
  const lh = p.legend[0][1] === "" ? 32 : 40;
  const lx = c.x1 - 21 - lw, ly = top + p.legTop;
  const lg = g.append("g");
  lg.append("rect")
    .attr("x", lx).attr("y", ly).attr("width", lw).attr("height", lh)
    .attr("fill", "#fff").attr("stroke", axisColor).attr("stroke-width", 2);
  p.legend.forEach((it, i) => {
    const sx = lx + 13 + 115 * i;
    const cy = ly + lh / 2;
    lg.append("line")
      .attr("x1", sx).attr("x2", sx + 70).attr("y1", cy).attr("y2", cy)
      .attr("stroke", i === 0 ? "#3b8fd0" : "#222").attr("stroke-width", 1.5);
    const lt = lg.append("text")
      .attr("x", sx + 75).attr("y", cy + 5)
      .attr("font-family", serif).attr("fill", "#333");
    richText(lt, [[it[0], 1], [it[1], 2]], 18, 11, 6);
  });
});
</script>
</body>
</html>
